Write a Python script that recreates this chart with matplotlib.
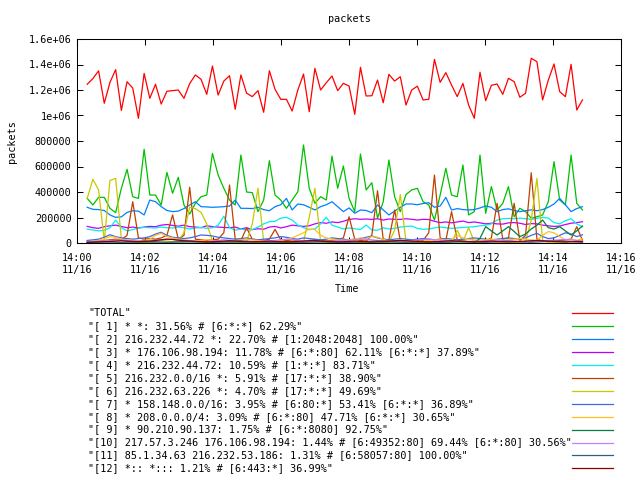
import numpy as np
import matplotlib
matplotlib.use("Agg")
import matplotlib.pyplot as plt
from matplotlib.lines import Line2D

# ---------------- data (packets, in thousands) ----------------
n_samples = 88
t_first, t_last = 18, 892          # seconds after 14:00
times = np.linspace(t_first, t_last, n_samples)

total = [1245,1290,1350,1096,1260,1360,1040,1265,1215,978,1330,
         1135,1245,1090,1190,1195,1200,1135,1250,1318,1284,1166,
         1388,1160,1270,1312,1049,1318,1175,1148,1195,1025,1351,
         1205,1127,1127,1035,1200,1325,1030,1370,1200,1257,1310,
         1195,1252,1231,1009,1378,1153,1155,1278,1100,1323,1270,
         1304,1082,1200,1230,1122,1127,1440,1260,1336,1239,1148,
         1252,1082,978,1339,1116,1237,1247,1166,1292,1265,1143,
         1174,1449,1422,1122,1278,1404,1187,1148,1401,1043,1122]
s1 = [350,298,358,358,272,238,429,578,363,350,735,
      376,376,298,554,390,515,298,227,311,363,376,
      703,533,429,337,298,690,400,395,246,337,646,
      376,337,272,337,402,769,429,311,363,337,682,
      429,604,350,246,698,416,473,195,324,651,363,
      246,380,416,429,324,298,180,376,586,376,363,
      612,220,246,690,233,442,259,311,442,206,272,
      246,194,206,220,324,638,337,298,690,311,259]
s2 = [280,264,262,255,220,201,205,240,253,250,220,
      337,324,285,255,246,250,270,298,324,285,283,
      280,282,285,290,337,272,272,270,280,262,253,
      285,300,350,259,306,300,280,259,285,300,324,
      285,246,275,233,259,255,238,298,260,220,250,
      280,306,306,300,310,316,280,290,358,259,270,
      262,259,262,275,290,280,246,262,268,255,246,
      253,260,253,262,280,306,350,300,246,270,285]
s3 = [130,120,115,128,135,140,130,120,125,118,125,
      130,128,140,145,138,132,140,128,125,120,135,
      128,125,122,120,125,110,120,105,112,108,125,
      130,118,128,140,135,130,135,150,160,155,165,
      160,170,185,190,186,188,185,190,180,188,186,
      185,190,186,180,186,184,170,160,165,158,165,
      172,160,165,158,150,155,150,148,158,160,155,
      145,152,150,140,135,130,133,145,155,160,167]
s4 = [108,102,95,100,120,180,120,95,105,118,122,
      120,118,125,120,118,125,120,110,118,122,115,
      120,140,210,120,100,110,102,105,125,150,167,
      170,195,201,180,140,120,105,110,150,201,140,
      125,110,118,112,105,141,102,100,120,110,115,
      125,130,133,115,107,110,118,125,120,115,118,
      122,125,128,135,140,150,180,190,193,190,195,
      190,185,193,201,195,160,150,175,190,150,128]
s5 = [10,12,15,20,25,30,25,60,324,40,30,
      35,30,40,60,220,30,60,437,30,25,20,
      25,30,80,455,30,20,118,30,25,20,30,
      107,25,20,15,20,15,20,25,20,15,20,
      25,40,206,30,20,15,60,410,30,25,259,
      20,15,10,15,20,80,533,40,20,246,25,
      15,10,15,20,15,40,311,30,40,311,20,
      60,551,30,15,10,15,20,25,30,128,20]
s6 = [350,500,416,15,490,507,30,10,5,5,5,
      5,10,20,15,10,20,80,280,270,240,150,
      20,5,10,5,5,5,10,150,430,10,5,
      5,5,5,5,5,10,200,429,10,5,5,
      5,5,10,5,5,5,5,10,5,5,100,
      380,10,5,5,5,5,10,5,5,5,100,
      10,120,10,5,5,5,5,5,5,5,5,
      10,180,507,20,5,5,5,5,10,5,5]
s7 = [20,25,30,45,65,50,40,35,30,35,40,
      50,70,84,60,45,40,35,40,50,63,60,
      55,45,40,35,30,35,40,30,25,30,35,
      40,50,45,35,30,40,35,30,25,30,40,
      35,30,25,30,35,45,55,40,30,25,30,
      35,30,25,30,35,30,25,30,35,30,25,
      30,35,40,35,30,25,30,35,40,35,30,
      40,60,76,50,35,40,60,80,70,50,65]
s8 = [5,10,20,35,50,45,30,25,20,15,20,
      30,60,76,50,40,30,25,20,15,20,25,
      20,15,10,15,20,25,30,25,20,15,10,
      15,20,30,40,60,80,110,105,60,40,30,
      25,20,25,30,40,35,50,45,30,15,20,
      25,20,15,10,15,20,25,30,25,20,60,
      40,30,25,20,25,30,25,20,25,30,35,
      30,25,20,60,90,80,50,25,30,20,35]
s9 = [0,0,0,0,0,0,0,0,0,0,0,
      0,0,0,0,0,0,0,0,0,0,0,
      0,0,0,0,0,0,0,0,0,0,0,
      0,0,0,0,0,0,0,0,0,0,0,
      0,0,0,0,0,0,0,0,0,0,0,
      0,0,0,0,0,0,0,0,0,0,0,
      0,0,0,37,128,95,63,95,128,90,50,
      70,110,140,180,120,110,128,95,63,95,133]
s10 = [10,12,15,18,20,22,25,20,18,15,12,
       15,20,25,30,28,25,20,18,15,12,10,
       15,20,25,22,18,15,12,10,12,15,18,
       20,25,30,28,22,18,15,12,10,12,15,
       18,20,22,25,28,30,25,20,18,15,12,
       15,18,20,25,28,30,25,22,20,18,15,
       12,10,12,15,18,20,22,20,18,15,12,
       10,12,15,18,20,22,25,28,25,20,18]
s11 = [5,8,10,12,10,8,6,8,10,12,15,
       12,10,8,6,8,10,12,14,12,10,8,
       6,8,10,12,14,16,14,12,10,8,6,
       8,10,12,10,8,6,8,10,12,14,12,
       10,8,6,8,10,12,14,16,14,12,10,
       8,6,8,10,12,10,8,6,8,10,12,
       14,12,10,8,6,8,10,12,14,12,10,
       8,6,8,10,12,14,16,14,12,10,8]
s12 = [5,6,8,10,12,15,18,15,12,10,12,
       15,20,25,30,28,22,18,15,12,10,8,
       10,12,15,18,15,12,10,8,10,12,15,
       12,10,8,10,12,15,18,20,15,12,10,
       8,10,12,15,12,10,8,10,12,15,18,
       20,18,15,12,10,8,10,12,15,18,15,
       12,10,8,10,12,15,12,10,8,10,12,
       15,18,20,18,15,12,10,8,10,12,10]

labels = [
    '"TOTAL"',
    '"[ 1] * *: 31.56% # [6:*:*] 62.29%"',
    '"[ 2] 216.232.44.72 *: 22.70% # [1:2048:2048] 100.00%"',
    '"[ 3] * 176.106.98.194: 11.78% # [6:*:80] 62.11% [6:*:*] 37.89%"',
    '"[ 4] * 216.232.44.72: 10.59% # [1:*:*] 83.71%"',
    '"[ 5] 216.232.0.0/16 *: 5.91% # [17:*:*] 38.90%"',
    '"[ 6] 216.232.63.226 *: 4.70% # [17:*:*] 49.69%"',
    '"[ 7] * 158.148.0.0/16: 3.95% # [6:80:*] 53.41% [6:*:*] 36.89%"',
    '"[ 8] * 208.0.0.0/4: 3.09% # [6:*:80] 47.71% [6:*:*] 30.65%"',
    '"[ 9] * 90.210.90.137: 1.75% # [6:*:8080] 92.75%"',
    '"[10] 217.57.3.246 176.106.98.194: 1.44% # [6:49352:80] 69.44% [6:*:80] 30.56%"',
    '"[11] 85.1.34.63 216.232.53.186: 1.31% # [6:58057:80] 100.00%"',
    '"[12] *:: *::: 1.21% # [6:443:*] 36.99%"',
]
series = [total, s1, s2, s3, s4, s5, s6, s7, s8, s9, s10, s11, s12]
colors = ["#ff0000", "#00c000", "#0080ff", "#c000ff", "#00eeee", "#c04000",
          "#c8c800", "#4169e1", "#ffc020", "#008040", "#c080ff", "#306080",
          "#8b0000"]

xticks = [0, 120, 240, 360, 480, 600, 720, 840, 960]
xtick_labels = ["14:00\n11/16", "14:02\n11/16", "14:04\n11/16", "14:06\n11/16",
                "14:08\n11/16", "14:10\n11/16", "14:12\n11/16", "14:14\n11/16",
                "14:16\n11/16"]
yticks = [0, 200000, 400000, 600000, 800000, 1000000, 1200000, 1400000, 1600000]
ytick_labels = ["0", "200000", "400000", "600000", "800000", "1e+06",
                "1.2e+06", "1.4e+06", "1.6e+06"]

# ---------------- drawing ----------------
plt.rcParams['font.family'] = ['DejaVu Sans Mono']
plt.rcParams['font.size'] = 7.25

W, H = 640, 480
fig = plt.figure(figsize=(6.4, 4.8), dpi=100)
fig.patch.set_facecolor("white")
L, R, T, B = 77, 621, 39, 243
ax = fig.add_axes([L / W, 1 - B / H, (R - L) / W, (B - T) / H])

for vals, col in zip(series, colors):
    ax.plot(times, np.array(vals) * 1000.0, color=col, lw=0.9)

ax.set_xlim(0, 960)
ax.set_ylim(0, 1600000)
ax.set_xticks(xticks)
ax.set_xticklabels(xtick_labels, linespacing=1.3)
ax.set_yticks(yticks)
ax.set_yticklabels(ytick_labels)
ax.tick_params(direction="in", length=4, width=0.75, top=True, right=True,
               colors="black", labelsize=7.25)
ax.tick_params(axis="x", pad=7)
ax.tick_params(axis="y", pad=4)
for sp in ax.spines.values():
    sp.set_linewidth(0.75)
    sp.set_color("black")

fig.text(349 / W, 1 - 19 / H, "packets", ha="center", va="center")
fig.text(12 / W, 1 - 142 / H, "packets", ha="center", va="center", rotation=90)
fig.text(347 / W, 1 - 289 / H, "Time", ha="center", va="center")

# legend block below the plot, gnuplot style
row0, dy = 313, 12.95
for k, (lab, col) in enumerate(zip(labels, colors)):
    y = 1 - (row0 + k * dy) / H
    fig.text(88 / W, y, lab, ha="left", va="center")
    fig.add_artist(Line2D([572 / W, 613 / W], [y, y], color=col, lw=0.9,
                          transform=fig.transFigure))

fig.savefig("out.png", dpi=100, facecolor="white")
